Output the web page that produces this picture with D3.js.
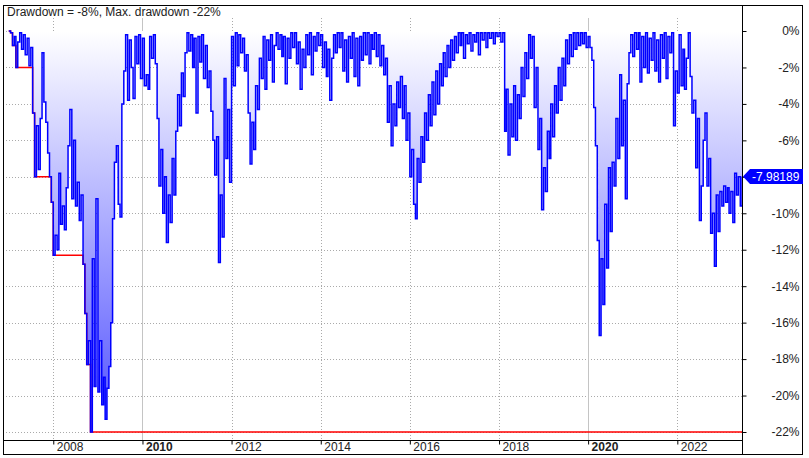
<!DOCTYPE html>
<html><head><meta charset="utf-8">
<script src="https://cdn.jsdelivr.net/npm/d3@7"></script>
<style>
body{margin:0;background:#fff}
svg{display:block}
text{font-family:"Liberation Sans",Arial,sans-serif;}
</style>
</head><body>
<svg id="chart" width="809" height="458"></svg>
<script>
const titleText = "Drawdown = -8%, Max. drawdown -22%";
const lastLabel = "-7.98189";
const startYear = 2007; // first observation: 1 Jan 2007, then the 1st and 16th of each month
const drawdown = [
 0,-0.1,-0.8,-0.3,-2.0,-0.6,-0.1,-1.0,-0.2,-1.3,-0.4,-1.9,-0.9,-4.5,-8.0,-5.2,-7.6,-4.8,-1.2,-3.9,-5.0,-6.7,-8.0,-9.4,
 -12.3,-11.2,-12.0,-7.8,-10.6,-9.6,-10.9,-8.6,-6.3,-4.3,-9.2,-6.0,-9.6,-8.3,-10.4,-9.0,-12.8,-15.5,-18.3,-17.0,-22.0,-12.5,-19.5,-9.2,
 -19.8,-17.0,-20.5,-19.0,-21.3,-19.6,-18.4,-16.0,-10.3,-7.2,-6.3,-9.5,-10.2,-4.0,-2.2,-0.2,-3.8,-0.5,-2.0,-3.7,-0.3,-1.8,-0.2,-2.6,
 -0.4,-3.0,-2.4,-3.2,-0.3,-1.5,-0.2,-1.8,-4.8,-8.5,-6.5,-10.0,-8.0,-11.6,-9.0,-10.5,-7.0,-9.0,-5.5,-3.5,-5.2,-2.3,-3.6,-1.2,
 -0.1,-1.1,-0.2,-2.0,-0.4,-4.5,-0.3,-1.7,-0.2,-2.6,-0.8,-3.1,-2.2,-4.4,-6.0,-7.9,-5.8,-12.7,-9.0,-11.3,-2.6,-7.0,-4.3,-8.3,
 -0.3,-3.0,-0.1,-1.9,-0.2,-1.2,-0.4,-2.2,-1.3,-4.5,-7.3,-5.0,-6.5,-3.0,-4.3,-1.5,-2.6,-0.3,-3.2,-0.5,-1.6,-0.2,-2.8,-0.8,
 -0.1,-1.0,-0.2,-1.4,-0.3,-2.9,-0.4,-1.5,-0.1,-0.9,-0.1,-1.8,-0.6,-3.2,-1.0,-2.0,-0.2,-1.3,-0.1,-2.4,-0.3,-1.1,-0.1,-0.8,
 -0.2,-2.0,-0.6,-2.5,-1.0,-3.8,-1.5,-0.2,-1.2,-0.1,-0.9,-0.1,-2.2,-0.5,-2.8,-0.3,-1.5,-0.1,-2.5,-0.4,-3.0,-0.3,-1.6,-0.1,
 -1.3,-0.1,-1.8,-0.2,-1.0,-0.1,-1.4,-0.2,-1.9,-0.8,-2.4,-1.5,-5.0,-3.0,-6.3,-4.0,-5.2,-2.8,-4.2,-2.5,-4.8,-3.0,-6.0,-4.5,
 -8.0,-6.5,-9.5,-10.3,-7.0,-8.3,-5.8,-7.2,-4.5,-6.0,-3.5,-5.2,-2.8,-4.6,-2.2,-4.0,-1.8,-3.0,-1.2,-2.5,-0.8,-2.0,-0.5,-1.6,
 -0.3,-1.2,-0.1,-0.8,-0.1,-1.5,-0.2,-0.7,-0.1,-1.1,-0.2,-0.6,-0.1,-1.3,-0.1,-0.5,-0.1,-0.9,-0.1,-0.4,-0.1,-0.7,-0.1,-0.3,
 -0.1,-0.6,-0.1,-5.5,-3.2,-6.8,-4.0,-5.8,-3.0,-6.0,-3.5,-4.8,-2.0,-3.6,-1.2,-2.6,-0.2,-1.5,-0.3,-4.2,-2.0,-6.5,-4.8,-9.8,
 -7.5,-8.8,-5.5,-7.0,-4.0,-5.8,-3.0,-4.5,-2.0,-3.8,-1.5,-3.0,-0.5,-1.8,-0.2,-1.4,-0.1,-1.0,-0.1,-0.8,-0.1,-0.7,-0.1,-0.9,
 -0.3,-0.9,-1.6,-4.2,-6.3,-11.5,-16.7,-12.5,-15.0,-9.5,-13.0,-7.5,-11.0,-7.2,-8.5,-4.8,-7.0,-2.4,-6.3,-3.8,-9.2,-2.9,-1.2,-0.2,
 -1.4,-0.1,-1.0,-0.1,-2.8,-0.3,-2.0,-0.1,-2.3,-0.4,-1.6,-0.1,-2.2,-0.5,-2.8,-0.2,-1.5,-0.1,-2.6,-0.3,-1.2,-0.1,-5.2,-2.2,
 -3.4,-0.2,-3.0,-1.0,-3.2,-1.5,-0.1,-2.5,-4.5,-3.8,-7.5,-4.8,-10.4,-8.5,-6.0,-4.5,-8.5,-7.0,-11.1,-10.0,-12.9,-9.0,-11.0,-8.8,
 -9.6,-8.5,-9.4,-8.6,-10.0,-8.8,-10.5,-7.8,-9.0,-8.0,-9.6,-7.98189
];
const yTickValues = [0,-2,-4,-6,-8,-10,-12,-14,-16,-18,-20,-22];
const xTickYears = [2008,2010,2012,2014,2016,2018,2020,2022];
const boldYears = [2010,2020];

const data = drawdown.map((v,i)=>({date:new Date(startYear, Math.floor(i/2), i%2 ? 16 : 1), v}));
let runMin = 0;
const maxDD = data.map(d=>{runMin=Math.min(runMin,d.v);return {date:d.date,v:runMin};});

const L=3, R=742, T=5, B=440;
const svg=d3.select("#chart");
const x=d3.scaleTime().domain([new Date(2006,10,15),new Date(2023,5,15)]).range([L,R]);
const y=d3.scaleLinear().domain([0,-22]).range([31,432]);
const lastVal=drawdown[drawdown.length-1];
const ly=y(lastVal);

const defs=svg.append("defs");
defs.append("clipPath").attr("id","clip").append("rect").attr("x",L).attr("y",T).attr("width",R-L).attr("height",B-T);
const grad=defs.append("linearGradient").attr("id","g").attr("gradientUnits","userSpaceOnUse")
  .attr("x1",0).attr("x2",0).attr("y1",y(0)).attr("y2",y(-22));
grad.append("stop").attr("offset","0").attr("stop-color","#ffffff");
grad.append("stop").attr("offset","1").attr("stop-color","#5050ff");

// grid
const grid=svg.append("g");
grid.selectAll(".hg").data(yTickValues).join("line")
  .attr("x1",L).attr("x2",R).attr("y1",d=>Math.round(y(d))+0.5).attr("y2",d=>Math.round(y(d))+0.5)
  .attr("stroke","#aaa").attr("stroke-dasharray","1,2");
grid.selectAll(".vg").data(xTickYears).join("line")
  .attr("x1",d=>Math.round(x(new Date(d,0,1)))+0.5).attr("x2",d=>Math.round(x(new Date(d,0,1)))+0.5)
  .attr("y1",18).attr("y2",B)
  .attr("stroke",d=>boldYears.includes(d)?"#c4c4c4":"#aaa")
  .attr("stroke-dasharray",d=>boldYears.includes(d)?null:"1,2");

const plot=svg.append("g").attr("clip-path","url(#clip)");
plot.append("path").datum(data)
  .attr("d",d3.area().x(d=>x(d.date)).y0(y(0)).y1(d=>y(d.v)).curve(d3.curveStepAfter))
  .attr("fill","url(#g)");
plot.append("path").datum(maxDD)
  .attr("d",d3.line().x(d=>x(d.date)).y(d=>y(d.v)).curve(d3.curveStepAfter))
  .attr("fill","none").attr("stroke","#ff0000").attr("stroke-width",1.5);
plot.append("path").datum(data)
  .attr("d",d3.line().x(d=>x(d.date)).y(d=>y(d.v)).curve(d3.curveStepAfter))
  .attr("fill","none").attr("stroke","#0000ff").attr("stroke-width",1.5);

// axes
const yAxis=svg.append("g").attr("transform",`translate(${R+0.5},0)`)
  .call(d3.axisRight(y).tickValues(yTickValues).tickSize(4).tickPadding(0).tickFormat(d=>d+"%"));
yAxis.select(".domain").remove();
yAxis.selectAll("line").attr("stroke","#000");
yAxis.selectAll("text").attr("x",799-R).attr("text-anchor","end").attr("font-size",12)
  .attr("fill","#222").attr("font-family","Liberation Sans, Arial, sans-serif");
// the tick label hidden behind the last-value marker is not drawn
yAxis.selectAll(".tick").filter(d=>Math.abs(y(d)-ly)<12).select("text").remove();

const xAxis=svg.append("g").attr("transform",`translate(0,${B+0.5})`)
  .call(d3.axisBottom(x).tickValues(xTickYears.map(d=>new Date(d,0,1))).tickSize(4).tickFormat(d3.timeFormat("%Y")));
xAxis.select(".domain").remove();
xAxis.selectAll("line").attr("stroke","#000");
xAxis.selectAll("text").attr("text-anchor","start").attr("x",3).attr("y",2).attr("dy","0.71em")
  .attr("font-size",12).attr("fill","#222").attr("font-family","Liberation Sans, Arial, sans-serif")
  .attr("font-weight",d=>boldYears.includes(d.getFullYear())?"bold":"normal");

// frame lines
const fr=svg.append("g").attr("stroke","#000").attr("fill","none");
fr.append("line").attr("x1",L).attr("x2",R).attr("y1",B+0.5).attr("y2",B+0.5);
fr.append("line").attr("x1",R+0.5).attr("x2",R+0.5).attr("y1",T).attr("y2",454);
fr.append("rect").attr("x",3.5).attr("y",T+0.5).attr("width",799).attr("height",449);

// last value marker
svg.append("path").attr("d",`M${R+1},${ly} L${R+8},${ly-7.5} L803,${ly-7.5} L803,${ly+7.5} L${R+8},${ly+7.5} Z`)
  .attr("fill","#0000ff");
svg.append("text").attr("x",R+10).attr("y",ly+4.5).attr("font-size",12).attr("fill","#fff").text(lastLabel);

// title
svg.append("rect").attr("x",4).attr("y",6).attr("width",240).attr("height",12).attr("fill","#fff");
svg.append("text").attr("x",7).attr("y",15.5).attr("font-size",12).attr("fill","#222").text(titleText);
</script>
</body></html>
